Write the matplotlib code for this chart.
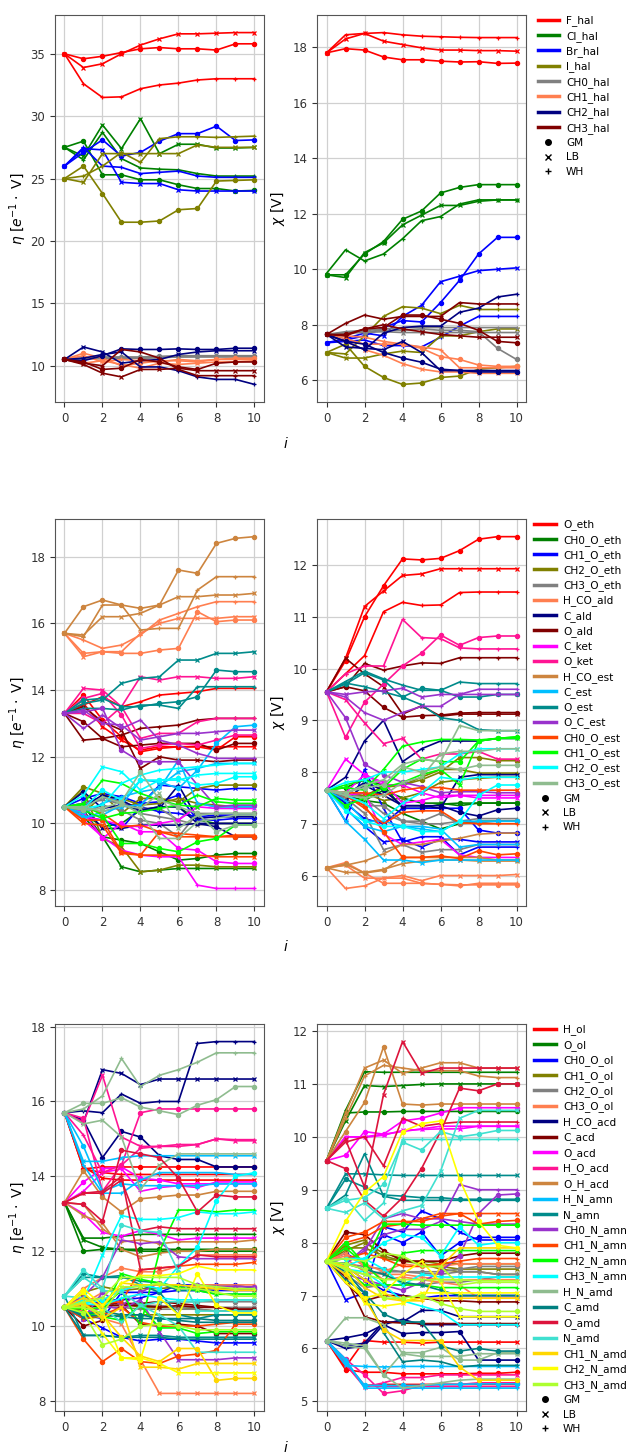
import matplotlib
matplotlib.use("Agg")
import matplotlib.pyplot as plt
from matplotlib.lines import Line2D

plt.rcParams["font.size"] = 8.5
plt.rcParams["font.family"] = ["DejaVu Sans"]

steps = list(range(11))
methods = ["GM", "LB", "WH"]
method_markers = {"GM": "o", "LB": "x", "WH": "+"}

# ---- halogens: each entry is [GM, LB, WH] ----
F_hal_eta = [[35, 34.6, 34.8, 35.1, 35.4, 35.5, 35.4, 35.4, 35.3, 35.8, 35.8],
             [35, 33.9, 34.2, 35.0, 35.7, 36.2, 36.6, 36.6, 36.65, 36.7, 36.7],
             [35, 32.6, 31.5, 31.55, 32.2, 32.5, 32.65, 32.9, 33.0, 33.0, 33.0]]
F_hal_chi = [[17.8, 17.95, 17.9, 17.65, 17.55, 17.55, 17.5, 17.47, 17.48, 17.42, 17.43],
             [17.8, 18.3, 18.5, 18.22, 18.1, 17.98, 17.9, 17.9, 17.88, 17.88, 17.86],
             [17.8, 18.45, 18.5, 18.53, 18.45, 18.4, 18.38, 18.36, 18.35, 18.35, 18.35]]
Cl_hal_eta = [[27.5, 28.0, 25.3, 25.3, 24.9, 24.9, 24.5, 24.2, 24.2, 24.0, 24.05],
              [27.5, 26.8, 29.3, 27.4, 29.8, 27.0, 27.75, 27.75, 27.45, 27.45, 27.5],
              [27.5, 26.5, 28.7, 26.6, 25.85, 25.75, 25.7, 25.4, 25.2, 25.2, 25.2]]
Cl_hal_chi = [[9.8, 9.8, 10.55, 11.0, 11.8, 12.1, 12.75, 12.95, 13.05, 13.05, 13.05],
              [9.8, 9.7, 10.6, 10.95, 11.6, 11.95, 12.3, 12.3, 12.45, 12.5, 12.5],
              [9.85, 10.7, 10.3, 10.55, 11.1, 11.75, 11.9, 12.35, 12.5, 12.5, 12.5]]
Br_hal_eta = [[26.0, 27.1, 28.1, 26.8, 27.1, 28.0, 28.6, 28.6, 29.2, 28.05, 28.1],
              [26.0, 27.4, 27.3, 24.7, 24.6, 24.6, 24.1, 24.0, 24.0, 24.0, 24.0],
              [26.0, 27.5, 26.0, 25.9, 25.4, 25.5, 25.6, 25.2, 25.1, 25.1, 25.1]]
Br_hal_chi = [[7.35, 7.45, 7.6, 7.9, 8.15, 8.1, 8.8, 9.6, 10.55, 11.15, 11.15],
              [7.35, 7.5, 7.7, 7.6, 8.3, 8.7, 9.55, 9.75, 9.95, 10.0, 10.05],
              [7.35, 7.4, 7.45, 7.25, 7.25, 7.2, 7.55, 7.95, 8.3, 8.3, 8.3]]
I_hal_eta = [[25.0, 26.0, 23.8, 21.5, 21.5, 21.6, 22.5, 22.6, 24.8, 24.85, 24.9],
             [25.0, 24.7, 27.0, 27.0, 27.0, 27.0, 27.0, 27.7, 27.5, 27.5, 27.5],
             [25.0, 25.2, 26.0, 27.1, 26.3, 28.2, 28.35, 28.35, 28.3, 28.35, 28.4]]
I_hal_chi = [[7.0, 7.3, 6.5, 6.1, 5.85, 5.9, 6.1, 6.15, 6.4, 6.45, 6.5],
             [7.0, 6.8, 6.8, 6.95, 7.05, 7.0, 7.6, 7.6, 7.75, 7.85, 7.85],
             [7.0, 6.95, 7.6, 8.3, 8.65, 8.6, 8.4, 8.7, 8.55, 8.55, 8.55]]
CH0_hal_eta = [[10.5, 10.6, 10.7, 10.7, 10.7, 10.75, 10.8, 10.8, 10.8, 10.8, 10.8],
               [10.5, 10.55, 10.6, 10.65, 10.6, 10.65, 10.7, 10.7, 10.7, 10.7, 10.7],
               [10.5, 10.6, 10.55, 10.6, 10.6, 10.65, 10.7, 10.75, 10.75, 10.75, 10.75]]
CH0_hal_chi = [[7.65, 7.7, 7.75, 7.8, 7.8, 7.85, 7.8, 7.8, 7.75, 7.15, 6.75],
               [7.65, 7.7, 7.72, 7.75, 7.72, 7.72, 7.72, 7.72, 7.72, 7.72, 7.72],
               [7.65, 7.75, 7.8, 7.85, 7.9, 7.9, 7.9, 7.9, 7.9, 7.9, 7.9]]
CH1_hal_eta = [[10.5, 11.0, 10.6, 10.0, 10.2, 10.4, 10.4, 10.3, 10.5, 10.6, 10.6],
               [10.5, 10.2, 10.4, 10.1, 9.8, 10.2, 10.1, 10.2, 10.3, 10.3, 10.4],
               [10.5, 10.8, 10.3, 10.5, 10.4, 10.3, 10.5, 10.4, 10.5, 10.5, 10.5]]
CH1_hal_chi = [[7.65, 7.5, 7.3, 7.3, 7.3, 7.15, 6.85, 6.75, 6.55, 6.5, 6.5],
               [7.65, 7.4, 7.1, 6.9, 6.6, 6.4, 6.3, 6.3, 6.25, 6.25, 6.25],
               [7.65, 7.6, 7.55, 7.4, 7.3, 7.2, 7.1, 6.45, 6.45, 6.45, 6.45]]
CH2_hal_eta = [[10.5, 10.4, 10.8, 11.35, 11.3, 11.3, 11.35, 11.3, 11.3, 11.4, 11.4],
               [10.5, 11.5, 11.1, 10.2, 10.4, 10.5, 10.9, 11.1, 11.2, 11.2, 11.2],
               [10.5, 10.6, 10.9, 11.1, 9.9, 9.9, 9.6, 9.1, 8.9, 8.9, 8.5]]
CH2_hal_chi = [[7.65, 7.4, 7.3, 7.0, 6.8, 6.65, 6.4, 6.35, 6.3, 6.3, 6.3],
               [7.65, 7.2, 7.15, 7.1, 7.4, 7.0, 6.35, 6.35, 6.35, 6.35, 6.35],
               [7.65, 7.4, 7.1, 7.7, 7.9, 7.95, 7.95, 8.45, 8.6, 9.0, 9.1]]
CH3_hal_eta = [[10.5, 10.3, 9.7, 9.8, 10.5, 10.3, 9.9, 9.7, 10.2, 10.3, 10.3],
               [10.5, 10.1, 9.4, 9.1, 9.7, 9.7, 9.8, 9.6, 9.6, 9.6, 9.6],
               [10.5, 10.2, 10.0, 11.3, 11.1, 10.6, 9.7, 9.2, 9.2, 9.2, 9.2]]
CH3_hal_chi = [[7.65, 7.65, 7.85, 7.9, 8.35, 8.35, 8.2, 8.05, 7.8, 7.4, 7.35],
               [7.65, 7.6, 7.85, 8.0, 7.85, 7.75, 7.65, 7.6, 7.55, 7.55, 7.55],
               [7.65, 8.05, 8.35, 8.2, 8.3, 8.3, 8.3, 8.8, 8.75, 8.75, 8.75]]

# ---- ethers, aldehydes, ketones, esters ----
O_eth_eta = [[13.3, 13.85, 13.1, 12.6, 12.15, 12.25, 12.3, 12.3, 12.2, 12.6, 12.6],
             [13.3, 13.6, 12.9, 12.5, 12.2, 12.3, 12.3, 12.3, 12.3, 12.3, 12.3],
             [13.3, 13.55, 13.8, 13.5, 13.65, 13.85, 13.9, 13.95, 14.05, 14.05, 14.05]]
O_eth_chi = [[9.55, 10.15, 11.0, 11.6, 12.12, 12.1, 12.13, 12.28, 12.5, 12.55, 12.55],
             [9.55, 10.2, 11.2, 11.5, 11.8, 11.83, 11.93, 11.93, 11.93, 11.93, 11.93],
             [9.55, 9.9, 10.25, 11.1, 11.28, 11.22, 11.23, 11.47, 11.48, 11.48, 11.48]]
CH0_O_eth_eta = [[10.5, 10.4, 9.6, 9.5, 9.4, 9.15, 8.9, 8.95, 9.05, 9.1, 9.1],
                 [10.5, 10.2, 9.6, 8.7, 8.55, 8.6, 8.65, 8.65, 8.65, 8.65, 8.65],
                 [10.5, 10.3, 9.9, 10.0, 10.4, 10.5, 10.5, 10.1, 10.0, 10.0, 10.0]]
CH0_O_eth_chi = [[7.65, 7.7, 7.85, 7.75, 7.3, 7.3, 7.38, 7.4, 7.4, 7.4, 7.4],
                 [7.65, 7.55, 7.45, 7.65, 7.5, 7.4, 7.4, 7.35, 7.4, 7.4, 7.4],
                 [7.65, 7.4, 7.45, 7.4, 7.2, 7.05, 6.9, 7.0, 7.05, 7.05, 7.05]]
CH1_O_eth_eta = [[10.5, 10.75, 10.9, 10.8, 10.6, 10.65, 10.85, 10.1, 10.1, 10.15, 10.15],
                 [10.5, 10.6, 10.8, 10.55, 10.55, 11.15, 11.1, 11.05, 11.0, 11.05, 11.05],
                 [10.5, 10.2, 10.1, 9.85, 10.5, 10.35, 10.3, 10.2, 10.25, 10.25, 10.25]]
CH1_O_eth_chi = [[7.65, 7.4, 7.1, 7.0, 7.3, 7.3, 7.3, 7.3, 6.88, 6.82, 6.82],
                 [7.65, 7.3, 6.95, 6.65, 6.7, 6.55, 6.7, 6.7, 6.65, 6.65, 6.65],
                 [7.65, 7.05, 8.05, 7.3, 6.65, 6.75, 6.75, 6.4, 6.55, 6.55, 6.55]]
CH2_O_eth_eta = [[10.5, 11.1, 10.9, 10.3, 10.75, 10.75, 10.65, 11.05, 11.15, 11.15, 11.15],
                 [10.5, 11.0, 9.55, 9.3, 8.55, 8.6, 8.75, 8.75, 8.7, 8.7, 8.7],
                 [10.5, 10.3, 10.85, 10.75, 10.55, 10.6, 10.75, 10.6, 10.55, 10.5, 10.5]]
CH2_O_eth_chi = [[7.65, 7.55, 7.55, 7.7, 7.75, 7.85, 8.0, 8.28, 8.28, 8.22, 8.22],
                 [7.65, 7.5, 7.6, 7.45, 7.5, 7.6, 7.8, 7.85, 7.88, 7.9, 7.9],
                 [7.65, 7.6, 7.5, 7.75, 7.75, 7.9, 8.05, 8.05, 7.98, 7.98, 7.98]]
CH3_O_eth_eta = [[10.5, 10.3, 10.55, 10.4, 10.1, 10.0, 9.6, 10.3, 10.3, 10.3, 10.3],
                 [10.5, 10.45, 10.8, 10.65, 10.45, 10.45, 10.1, 9.95, 10.0, 10.0, 10.0],
                 [10.5, 10.6, 10.7, 10.6, 10.3, 10.2, 10.1, 10.6, 10.5, 10.5, 10.5]]
CH3_O_eth_chi = [[7.65, 7.55, 7.35, 7.35, 7.05, 7.05, 7.2, 7.0, 7.02, 7.05, 7.05],
                 [7.65, 7.5, 7.2, 6.5, 6.6, 6.45, 6.5, 6.5, 6.6, 6.6, 6.6],
                 [7.65, 7.6, 7.5, 7.2, 7.05, 7.0, 7.0, 7.05, 7.1, 7.1, 7.1]]
H_CO_ald_eta = [[15.7, 15.1, 15.15, 15.1, 15.1, 15.2, 15.25, 16.35, 16.05, 16.1, 16.1],
                [15.7, 15.0, 15.15, 15.15, 15.7, 16.0, 16.15, 16.15, 16.15, 16.2, 16.2],
                [15.7, 15.5, 15.25, 15.35, 15.65, 16.1, 16.3, 16.5, 16.65, 16.65, 16.65]]
H_CO_ald_chi = [[6.15, 6.25, 6.05, 5.85, 5.85, 5.85, 5.83, 5.82, 5.82, 5.82, 5.82],
                [6.15, 6.2, 5.95, 5.95, 6.0, 5.9, 6.0, 6.0, 6.0, 6.0, 6.02],
                [6.15, 5.75, 5.8, 5.95, 5.95, 5.85, 5.83, 5.8, 5.85, 5.85, 5.85]]
C_ald_eta = [[10.5, 10.95, 10.45, 10.55, 10.4, 10.5, 10.5, 10.0, 9.9, 9.6, 9.6],
             [10.5, 10.5, 9.85, 9.85, 9.95, 9.95, 9.95, 10.0, 10.0, 10.0, 10.0],
             [10.5, 10.5, 10.85, 10.7, 10.4, 10.45, 11.15, 10.15, 10.2, 10.2, 10.2]]
C_ald_chi = [[7.65, 7.55, 7.8, 7.65, 7.35, 7.35, 7.35, 7.22, 7.15, 7.27, 7.3],
             [7.65, 7.45, 7.75, 7.55, 7.35, 7.35, 7.3, 7.9, 7.95, 7.95, 7.95],
             [7.65, 7.9, 8.6, 9.0, 8.2, 8.45, 8.6, 8.6, 8.6, 8.65, 8.65]]
O_ald_eta = [[13.3, 13.05, 12.55, 12.3, 12.35, 12.4, 12.4, 12.4, 12.2, 12.4, 12.4],
             [13.3, 13.5, 13.05, 12.8, 11.65, 12.0, 11.9, 11.9, 11.85, 11.9, 11.9],
             [13.3, 12.5, 12.55, 12.65, 12.85, 12.9, 12.95, 13.1, 13.15, 13.15, 13.15]]
O_ald_chi = [[9.55, 9.65, 9.57, 9.25, 9.06, 9.09, 9.1, 9.14, 9.15, 9.15, 9.15],
             [9.55, 10.2, 9.9, 9.65, 9.12, 9.28, 9.08, 9.12, 9.12, 9.12, 9.12],
             [9.55, 9.65, 10.1, 9.97, 10.05, 10.11, 10.1, 10.21, 10.21, 10.21, 10.21]]
C_ket_eta = [[10.5, 10.35, 9.55, 10.0, 9.75, 9.75, 9.25, 9.2, 8.85, 8.8, 8.8],
             [10.5, 10.2, 10.1, 9.95, 9.9, 10.0, 10.1, 10.5, 10.45, 10.45, 10.45],
             [10.5, 10.1, 9.6, 9.2, 9.05, 9.0, 9.0, 8.15, 8.05, 8.05, 8.05]]
C_ket_chi = [[7.65, 7.6, 7.95, 7.8, 7.4, 7.45, 7.55, 7.55, 7.55, 7.55, 7.55],
             [7.65, 8.25, 7.95, 7.75, 7.75, 7.6, 7.5, 7.55, 7.5, 7.5, 7.5],
             [7.65, 7.55, 7.6, 6.8, 6.6, 6.65, 6.7, 6.4, 6.35, 6.35, 6.35]]
O_ket_eta = [[13.3, 13.75, 13.9, 13.25, 12.25, 12.35, 12.4, 12.35, 12.5, 12.65, 12.65],
             [13.3, 14.05, 14.0, 13.5, 14.4, 14.3, 14.4, 14.4, 14.35, 14.35, 14.4],
             [13.3, 13.3, 13.0, 13.5, 12.55, 12.7, 12.7, 13.05, 13.15, 13.15, 13.15]]
O_ket_chi = [[9.55, 8.67, 9.35, 9.7, 10.05, 10.3, 10.65, 10.45, 10.6, 10.63, 10.63],
             [9.55, 9.4, 8.95, 8.55, 8.65, 8.25, 8.35, 8.35, 8.4, 8.25, 8.25],
             [9.55, 9.9, 10.05, 10.05, 10.95, 10.6, 10.58, 10.4, 10.38, 10.38, 10.38]]
H_CO_est_eta = [[15.7, 16.5, 16.7, 16.55, 16.45, 16.55, 17.6, 17.5, 18.4, 18.55, 18.6],
                [15.7, 15.65, 16.2, 16.2, 16.3, 16.55, 16.8, 16.8, 16.85, 16.85, 16.9],
                [15.7, 15.6, 16.55, 16.55, 15.8, 15.85, 15.85, 17.0, 17.4, 17.4, 17.4]]
H_CO_est_chi = [[6.15, 6.22, 6.05, 6.1, 6.35, 6.35, 6.35, 6.35, 6.35, 6.3, 6.3],
                [6.15, 6.06, 6.06, 6.12, 6.23, 6.28, 6.3, 6.3, 6.28, 6.28, 6.28],
                [6.15, 6.2, 6.28, 6.42, 6.6, 6.6, 6.67, 6.72, 6.8, 6.82, 6.82]]
C_est_eta = [[10.5, 10.2, 10.25, 10.55, 11.3, 11.25, 11.05, 11.6, 12.4, 12.9, 12.95],
             [10.5, 10.15, 10.35, 10.5, 10.55, 11.1, 11.55, 11.65, 11.8, 11.8, 11.8],
             [10.5, 10.3, 10.6, 10.8, 10.95, 11.05, 11.9, 10.6, 10.5, 10.5, 10.5]]
C_est_chi = [[7.65, 7.3, 6.95, 6.85, 6.95, 6.9, 6.85, 7.05, 7.05, 7.05, 7.05],
             [7.65, 7.05, 6.7, 6.3, 6.3, 6.25, 6.3, 6.3, 6.3, 6.3, 6.3],
             [7.65, 7.45, 7.05, 7.05, 6.95, 6.95, 6.9, 6.55, 6.6, 6.6, 6.6]]
O_est_eta = [[13.3, 13.7, 13.75, 13.5, 13.5, 13.6, 13.65, 13.8, 14.6, 14.55, 14.55],
             [13.3, 13.6, 13.7, 14.2, 14.35, 14.4, 14.9, 14.9, 15.1, 15.1, 15.15],
             [13.3, 13.45, 13.45, 13.4, 13.55, 13.55, 13.45, 14.1, 14.1, 14.1, 14.1]]
O_est_chi = [[9.55, 9.7, 9.92, 9.78, 9.45, 9.62, 9.58, 9.45, 9.45, 9.5, 9.5],
             [9.55, 9.72, 9.65, 9.55, 9.45, 9.3, 9.05, 9.0, 8.82, 8.8, 8.8],
             [9.55, 9.75, 9.95, 9.8, 9.68, 9.58, 9.58, 9.74, 9.71, 9.71, 9.71]]
O_C_est_eta = [[13.3, 13.35, 13.45, 12.2, 11.85, 11.85, 11.85, 11.15, 10.5, 10.55, 10.55],
               [13.3, 13.4, 13.0, 12.95, 12.5, 12.6, 12.7, 12.7, 12.75, 12.8, 12.8],
               [13.3, 12.85, 13.25, 12.85, 13.1, 12.5, 12.35, 12.1, 11.95, 11.95, 11.95]]
O_C_est_chi = [[9.55, 9.05, 8.15, 7.95, 7.8, 7.72, 7.6, 7.62, 7.62, 7.6, 7.6],
               [9.55, 9.5, 9.55, 9.57, 9.62, 9.45, 9.5, 9.5, 9.5, 9.5, 9.5],
               [9.55, 9.45, 9.15, 9.0, 9.15, 9.27, 9.27, 9.5, 9.6, 9.6, 9.6]]
CH0_O_est_eta = [[10.5, 10.1, 10.1, 9.15, 9.05, 9.75, 9.6, 9.6, 9.6, 9.6, 9.6],
                 [10.5, 10.0, 9.95, 9.1, 9.05, 9.05, 9.05, 9.05, 9.0, 9.0, 9.0],
                 [10.5, 10.5, 10.3, 9.9, 9.95, 9.75, 9.7, 9.65, 9.6, 9.65, 9.65]]
CH0_O_est_chi = [[7.65, 7.55, 7.35, 6.85, 6.35, 6.35, 6.38, 6.33, 6.48, 6.4, 6.42],
                 [7.65, 7.6, 7.6, 7.55, 7.65, 7.7, 7.7, 7.65, 7.65, 7.65, 7.65],
                 [7.65, 7.55, 7.3, 7.0, 7.22, 7.25, 7.25, 7.02, 7.0, 7.0, 7.0]]
CH1_O_est_eta = [[10.5, 10.55, 10.25, 9.4, 9.4, 9.25, 9.15, 9.45, 9.55, 9.95, 9.95],
                 [10.5, 10.4, 10.15, 10.3, 10.35, 10.45, 10.55, 10.5, 10.75, 10.7, 10.7],
                 [10.5, 10.6, 11.3, 11.2, 10.9, 10.7, 10.55, 10.85, 10.65, 10.6, 10.6]]
CH1_O_est_chi = [[7.65, 7.35, 7.5, 7.7, 8.05, 8.25, 8.2, 8.2, 8.6, 8.65, 8.68],
                 [7.65, 7.75, 7.85, 7.7, 7.8, 7.95, 8.05, 7.75, 8.6, 8.65, 8.65],
                 [7.65, 7.7, 7.65, 8.05, 8.5, 8.58, 8.63, 8.63, 8.62, 8.65, 8.68]]
CH2_O_est_eta = [[10.5, 10.45, 11.0, 10.7, 11.3, 11.3, 11.35, 11.15, 11.2, 11.4, 11.4],
                 [10.5, 10.85, 11.7, 11.55, 11.0, 11.3, 11.3, 11.45, 11.5, 11.5, 11.5],
                 [10.5, 10.45, 10.55, 11.2, 11.45, 11.6, 11.65, 11.7, 11.75, 11.8, 11.8]]
CH2_O_est_chi = [[7.65, 7.25, 7.05, 6.95, 6.95, 6.85, 6.85, 7.05, 7.55, 7.75, 7.75],
                 [7.65, 7.8, 7.85, 8.0, 8.0, 8.05, 8.1, 8.35, 8.45, 8.45, 8.45],
                 [7.65, 7.55, 7.4, 7.1, 7.4, 7.6, 7.9, 7.85, 7.9, 7.9, 7.9]]
CH3_O_est_eta = [[10.5, 10.4, 10.45, 10.65, 11.55, 10.7, 10.5, 10.3, 9.75, 9.95, 9.95],
                 [10.5, 10.5, 10.35, 10.55, 10.45, 10.9, 9.85, 10.25, 10.3, 10.3, 10.3],
                 [10.5, 10.45, 10.8, 10.6, 10.3, 9.55, 9.55, 10.05, 10.15, 10.25, 10.25]]
CH3_O_est_chi = [[7.65, 7.6, 7.7, 7.75, 8.1, 8.0, 8.1, 8.05, 8.13, 8.13, 8.13],
                 [7.65, 7.55, 7.5, 7.55, 7.8, 7.9, 8.35, 8.4, 8.4, 8.45, 8.45],
                 [7.65, 7.6, 7.75, 7.85, 8.15, 8.25, 8.2, 8.9, 8.8, 8.8, 8.8]]

# ---- alcohols, acids, amines, amides ----
H_ol_eta = [[15.7, 14.2, 14.25, 14.25, 14.25, 14.25, 14.25, 14.25, 14.25, 14.25, 14.25],
            [15.7, 14.25, 13.95, 13.9, 13.9, 13.9, 13.9, 13.9, 13.9, 13.9, 13.9],
            [15.7, 14.2, 14.1, 14.05, 14.05, 14.05, 14.05, 14.05, 14.05, 14.05, 14.05]]
H_ol_chi = [[6.15, 5.6, 5.55, 5.55, 5.52, 5.52, 5.52, 5.52, 5.53, 5.53, 5.55],
            [6.15, 5.65, 6.15, 6.12, 6.12, 6.1, 6.12, 6.12, 6.12, 6.12, 6.12],
            [6.15, 5.7, 5.3, 5.32, 5.32, 5.32, 5.32, 5.32, 5.32, 5.32, 5.32]]
O_ol_eta = [[13.3, 12.0, 12.05, 12.05, 12.05, 12.05, 12.05, 12.05, 12.05, 12.05, 12.05],
            [13.3, 12.3, 12.1, 12.05, 12.0, 12.0, 12.0, 12.0, 12.0, 12.0, 12.0],
            [13.3, 12.35, 12.35, 12.4, 12.45, 12.45, 12.45, 12.45, 12.45, 12.45, 12.45]]
O_ol_chi = [[9.55, 10.45, 10.47, 10.47, 10.48, 10.48, 10.48, 10.48, 10.48, 10.48, 10.48],
            [9.55, 10.3, 10.97, 10.95, 10.97, 10.99, 11.0, 11.0, 11.0, 11.0, 11.0],
            [9.55, 10.5, 11.23, 11.22, 11.22, 11.22, 11.22, 11.22, 11.22, 11.22, 11.22]]
CH0_O_ol_eta = [[10.5, 10.3, 10.2, 10.9, 10.9, 10.9, 11.1, 11.1, 11.1, 11.1, 11.0],
                [10.5, 10.2, 9.95, 9.7, 9.6, 9.65, 9.65, 9.6, 9.55, 9.55, 9.55],
                [10.5, 10.45, 10.7, 10.7, 10.75, 10.9, 10.95, 10.95, 10.95, 10.95, 10.95]]
CH0_O_ol_chi = [[7.65, 7.8, 7.6, 8.15, 8.0, 8.2, 7.75, 8.0, 8.1, 8.1, 8.1],
                [7.65, 6.92, 7.05, 8.3, 8.2, 8.6, 8.45, 8.2, 8.05, 8.05, 8.05],
                [7.65, 7.55, 7.3, 7.1, 7.0, 6.95, 7.0, 7.0, 7.0, 7.0, 7.0]]
CH1_O_ol_eta = [[10.5, 10.8, 10.6, 10.6, 10.5, 10.5, 10.5, 10.45, 10.4, 10.4, 10.4],
                [10.5, 10.9, 11.05, 10.95, 11.0, 11.0, 11.05, 11.0, 11.0, 11.0, 11.0],
                [10.5, 10.2, 10.25, 10.3, 10.3, 10.3, 10.3, 10.3, 10.3, 10.3, 10.3]]
CH1_O_ol_chi = [[7.65, 7.9, 7.9, 7.75, 7.65, 7.65, 7.6, 7.6, 7.6, 7.6, 7.6],
                [7.65, 7.85, 8.0, 7.8, 7.7, 7.6, 7.55, 7.5, 7.5, 7.5, 7.5],
                [7.65, 7.95, 8.05, 7.7, 7.65, 7.6, 7.5, 7.45, 7.45, 7.4, 7.4]]
CH2_O_ol_eta = [[10.5, 10.55, 10.6, 10.6, 10.6, 10.65, 10.65, 10.65, 10.65, 10.65, 10.65],
                [10.5, 10.7, 10.75, 10.6, 10.55, 10.55, 10.5, 10.5, 10.5, 10.5, 10.5],
                [10.5, 10.3, 10.5, 10.5, 10.45, 10.45, 10.45, 10.45, 10.4, 10.4, 10.4]]
CH2_O_ol_chi = [[7.65, 7.6, 7.55, 7.5, 7.45, 7.45, 7.45, 7.5, 7.55, 7.55, 7.55],
                [7.65, 7.5, 7.4, 7.45, 7.45, 7.42, 7.4, 7.45, 7.45, 7.4, 7.4],
                [7.65, 7.4, 7.15, 7.2, 7.2, 7.2, 7.25, 7.25, 7.3, 7.35, 7.35]]
CH3_O_ol_eta = [[10.5, 11.0, 11.3, 11.55, 11.45, 11.45, 11.6, 11.9, 11.9, 11.9, 11.9],
                [10.5, 10.4, 10.2, 10.05, 9.1, 8.2, 8.2, 8.2, 8.2, 8.2, 8.2],
                [10.5, 10.6, 10.9, 11.0, 11.1, 11.1, 11.05, 11.1, 11.1, 11.1, 11.1]]
CH3_O_ol_chi = [[7.65, 7.75, 7.6, 7.45, 7.6, 7.55, 7.55, 7.6, 7.6, 7.6, 7.6],
                [7.65, 7.8, 7.55, 7.3, 7.35, 7.3, 7.25, 7.2, 6.95, 6.95, 6.95],
                [7.65, 7.7, 7.45, 7.4, 7.4, 7.35, 7.3, 7.3, 7.3, 7.3, 7.3]]
H_CO_acd_eta = [[15.7, 15.5, 14.5, 15.2, 15.05, 14.55, 14.45, 14.45, 14.25, 14.25, 14.25],
                [15.7, 15.45, 16.85, 16.75, 16.45, 16.6, 16.6, 16.6, 16.6, 16.6, 16.6],
                [15.7, 15.75, 15.7, 16.2, 15.95, 16.0, 16.0, 17.55, 17.6, 17.6, 17.6]]
H_CO_acd_chi = [[6.15, 6.2, 6.27, 6.45, 6.28, 6.3, 6.3, 6.32, 5.78, 5.78, 5.78],
                [6.15, 6.05, 6.1, 6.5, 6.5, 6.72, 6.72, 6.6, 6.6, 6.6, 6.6],
                [6.15, 6.0, 6.05, 6.45, 6.55, 6.45, 6.45, 6.45, 6.45, 6.45, 6.45]]
C_acd_eta = [[10.5, 10.0, 10.15, 10.55, 10.05, 10.0, 10.05, 10.0, 9.8, 9.8, 9.8],
             [10.5, 10.5, 10.55, 10.55, 10.55, 10.5, 10.55, 10.5, 10.5, 10.45, 10.45],
             [10.5, 10.45, 10.6, 10.6, 10.6, 10.65, 10.6, 10.55, 10.5, 10.45, 10.45]]
C_acd_chi = [[7.65, 8.2, 8.15, 7.85, 7.65, 7.65, 7.65, 7.75, 7.8, 7.8, 7.8],
             [7.65, 7.35, 6.6, 6.5, 6.48, 6.47, 6.47, 6.47, 6.47, 6.47, 6.47],
             [7.65, 7.25, 6.9, 7.0, 7.0, 6.95, 6.9, 6.9, 6.88, 6.88, 6.88]]
O_acd_eta = [[13.3, 13.85, 14.2, 14.25, 13.95, 13.9, 13.8, 13.8, 13.8, 13.8, 13.8],
             [13.3, 13.0, 12.5, 12.4, 12.55, 12.45, 12.3, 12.35, 12.35, 12.35, 12.35],
             [13.3, 13.6, 14.1, 14.2, 13.6, 13.7, 13.75, 13.7, 13.85, 13.85, 13.85]]
O_acd_chi = [[9.55, 9.65, 10.1, 10.05, 10.3, 10.35, 10.45, 10.55, 10.55, 10.55, 10.55],
             [9.55, 10.0, 9.99, 10.03, 10.12, 10.14, 10.15, 10.15, 10.2, 10.2, 10.2],
             [9.55, 10.0, 10.0, 10.05, 10.1, 10.15, 10.2, 10.2, 10.2, 10.2, 10.2]]
H_O_acd_eta = [[15.7, 15.55, 13.6, 14.3, 15.7, 15.8, 15.8, 15.8, 15.8, 15.8, 15.8],
               [15.7, 15.45, 16.7, 15.05, 14.8, 14.8, 14.85, 14.85, 15.0, 14.95, 14.95],
               [15.7, 15.1, 14.1, 14.3, 14.75, 14.8, 14.8, 14.85, 15.0, 14.98, 14.98]]
H_O_acd_chi = [[6.15, 5.8, 5.5, 5.15, 5.2, 5.3, 5.32, 5.32, 5.35, 5.35, 5.35],
               [6.15, 5.7, 5.27, 5.35, 5.45, 5.45, 5.5, 5.5, 5.5, 5.5, 5.5],
               [6.15, 5.75, 5.3, 5.28, 5.28, 5.28, 5.28, 5.28, 5.28, 5.28, 5.28]]
O_H_acd_eta = [[13.3, 14.15, 13.45, 13.05, 13.4, 13.45, 13.5, 13.5, 13.6, 13.6, 13.6],
               [13.3, 12.95, 12.75, 12.05, 11.85, 11.95, 12.0, 12.0, 12.05, 12.05, 12.05],
               [13.3, 13.25, 12.6, 12.25, 12.3, 12.2, 12.25, 12.25, 12.25, 12.25, 12.3]]
O_H_acd_chi = [[9.55, 10.1, 10.65, 11.7, 10.62, 10.6, 10.62, 10.62, 10.62, 10.62, 10.62],
               [9.55, 10.45, 11.3, 11.45, 11.2, 11.3, 11.4, 11.4, 11.3, 11.3, 11.3],
               [9.55, 10.35, 11.15, 11.35, 11.3, 11.25, 11.25, 11.25, 11.15, 11.12, 11.12]]
H_N_amn_eta = [[15.7, 14.8, 13.6, 13.8, 13.75, 13.75, 13.75, 13.75, 13.8, 13.8, 13.8],
               [15.7, 14.4, 14.4, 14.5, 14.55, 14.55, 14.55, 14.55, 14.55, 14.55, 14.55],
               [15.7, 14.3, 13.55, 13.55, 13.9, 14.1, 14.1, 14.1, 14.1, 14.05, 14.05]]
H_N_amn_chi = [[6.15, 5.75, 5.3, 5.3, 5.3, 5.3, 5.32, 5.32, 5.33, 5.33, 5.33],
               [6.15, 5.68, 5.66, 5.65, 5.66, 5.66, 5.66, 5.66, 5.66, 5.66, 5.66],
               [6.15, 5.8, 5.25, 5.25, 5.25, 5.25, 5.25, 5.25, 5.25, 5.25, 5.25]]
N_amn_eta = [[10.8, 11.4, 11.3, 11.35, 11.1, 10.9, 10.3, 10.2, 10.3, 10.3, 10.3],
             [10.8, 9.75, 9.75, 9.7, 9.75, 9.75, 9.7, 9.7, 9.7, 9.7, 9.7],
             [10.8, 11.3, 11.3, 11.3, 11.2, 11.15, 10.95, 10.95, 10.85, 10.85, 10.85]]
N_amn_chi = [[8.65, 9.2, 9.05, 8.9, 8.88, 8.85, 8.85, 8.82, 8.82, 8.82, 8.82],
             [8.65, 9.3, 9.3, 9.28, 9.27, 9.27, 9.27, 9.27, 9.27, 9.27, 9.27],
             [8.65, 8.9, 9.68, 8.88, 8.8, 8.8, 8.8, 8.8, 8.8, 8.8, 8.8]]
CH0_N_amn_eta = [[10.5, 10.2, 10.9, 10.55, 10.9, 11.15, 11.05, 11.1, 11.05, 11.05, 11.05],
                 [10.5, 10.3, 10.55, 10.45, 10.7, 9.85, 9.1, 9.1, 9.1, 9.15, 9.15],
                 [10.5, 10.8, 11.3, 12.3, 12.2, 12.25, 11.85, 11.8, 11.8, 11.8, 11.8]]
CH0_N_amn_chi = [[7.65, 7.4, 7.3, 7.2, 7.1, 7.25, 7.45, 7.75, 8.55, 8.9, 8.92],
                 [7.65, 7.6, 7.85, 8.45, 8.55, 8.45, 8.45, 8.4, 8.35, 8.35, 8.35],
                 [7.65, 7.6, 7.9, 8.15, 8.25, 8.25, 8.4, 9.1, 9.0, 9.0, 9.0]]
CH1_N_amn_eta = [[10.5, 9.65, 9.05, 9.4, 9.05, 9.0, 9.2, 9.25, 9.35, 10.05, 10.05],
                 [10.5, 10.55, 10.6, 10.65, 11.5, 11.55, 11.6, 11.65, 11.65, 11.65, 11.7],
                 [10.5, 10.2, 10.3, 10.5, 10.1, 10.0, 10.0, 10.0, 10.05, 10.1, 10.1]]
CH1_N_amn_chi = [[7.65, 8.1, 8.2, 8.4, 8.4, 8.4, 8.5, 8.55, 8.35, 8.4, 8.42],
                 [7.65, 8.0, 8.1, 8.3, 8.35, 8.45, 8.55, 8.55, 8.55, 8.55, 8.55],
                 [7.65, 7.7, 7.8, 7.7, 7.55, 7.55, 7.6, 7.65, 7.7, 7.7, 7.7]]
CH2_N_amn_eta = [[10.5, 10.35, 10.25, 10.15, 10.55, 9.95, 9.95, 9.8, 9.85, 9.85, 9.85],
                 [10.5, 10.35, 10.35, 11.4, 11.25, 11.15, 11.05, 10.95, 10.85, 10.85, 10.85],
                 [10.5, 10.45, 10.5, 10.95, 10.0, 12.0, 13.1, 13.1, 13.05, 13.1, 13.1]]
CH2_N_amn_chi = [[7.65, 8.0, 7.6, 8.35, 8.35, 8.33, 8.33, 8.33, 8.33, 8.33, 8.33],
                 [7.65, 7.9, 7.6, 7.25, 7.8, 7.85, 7.85, 7.85, 7.85, 7.85, 7.85],
                 [7.65, 7.5, 7.2, 7.2, 7.2, 7.2, 7.15, 7.15, 7.15, 7.15, 7.15]]
CH3_N_amn_eta = [[10.5, 10.6, 10.7, 10.95, 11.1, 11.0, 11.6, 12.1, 13.35, 14.0, 14.1],
                 [10.5, 10.7, 11.9, 12.95, 12.85, 12.85, 12.9, 13.05, 13.0, 13.0, 13.05],
                 [10.5, 10.6, 10.55, 10.75, 10.85, 10.75, 10.7, 10.7, 10.7, 10.7, 10.7]]
CH3_N_amn_chi = [[7.65, 7.7, 7.7, 8.0, 8.15, 8.1, 7.75, 8.3, 7.95, 8.0, 8.0],
                 [7.65, 7.55, 7.7, 7.5, 7.2, 7.4, 7.35, 7.35, 7.35, 7.35, 7.35],
                 [7.65, 7.5, 7.45, 7.2, 6.9, 6.8, 6.7, 6.45, 6.45, 6.45, 6.45]]
H_N_amd_eta = [[15.7, 15.95, 15.95, 16.1, 15.85, 15.75, 15.65, 15.9, 16.05, 16.4, 16.4],
               [15.7, 15.4, 15.5, 15.05, 13.65, 14.3, 14.6, 14.6, 14.6, 14.6, 14.6],
               [15.7, 15.8, 16.15, 17.15, 16.4, 16.7, 16.85, 17.05, 17.3, 17.3, 17.3]]
H_N_amd_chi = [[6.15, 6.1, 6.05, 5.5, 5.92, 5.92, 6.02, 5.78, 5.78, 5.92, 5.92],
               [6.15, 6.58, 6.58, 6.45, 5.9, 5.85, 5.85, 5.85, 5.9, 5.9, 5.9],
               [6.15, 6.05, 6.0, 5.5, 5.25, 5.3, 5.35, 5.4, 5.42, 5.42, 5.42]]
C_amd_eta = [[10.5, 10.3, 10.4, 10.3, 10.3, 10.2, 10.2, 10.2, 10.15, 10.15, 10.15],
             [10.5, 10.25, 10.3, 10.25, 10.2, 10.2, 10.15, 10.1, 10.1, 10.1, 10.1],
             [10.5, 9.75, 9.75, 9.7, 9.7, 9.7, 9.65, 9.65, 9.65, 9.65, 9.65]]
C_amd_chi = [[7.65, 7.45, 7.05, 6.65, 6.5, 6.5, 6.05, 5.95, 6.0, 5.95, 5.95],
             [7.65, 7.6, 7.5, 7.4, 7.25, 7.2, 7.1, 7.0, 7.0, 7.0, 7.0],
             [7.65, 7.3, 7.05, 6.3, 5.75, 5.78, 5.75, 5.65, 5.68, 5.68, 5.68]]
O_amd_eta = [[13.3, 13.25, 12.8, 14.7, 14.6, 14.5, 13.95, 13.05, 13.5, 13.45, 13.45],
             [13.3, 13.55, 13.55, 13.9, 12.55, 12.65, 12.6, 12.6, 12.6, 12.6, 12.6],
             [13.3, 13.55, 13.6, 14.0, 11.5, 11.55, 11.6, 11.9, 11.85, 11.85, 11.85]]
O_amd_chi = [[9.55, 9.4, 8.8, 8.5, 8.85, 9.4, 10.1, 10.92, 10.87, 11.0, 11.0],
             [9.55, 9.95, 9.05, 10.8, 11.8, 11.2, 11.3, 11.3, 11.3, 11.3, 11.3],
             [9.55, 9.9, 10.0, 9.45, 10.35, 10.2, 10.25, 10.28, 10.28, 10.28, 10.28]]
N_amd_eta = [[10.8, 11.5, 11.0, 12.7, 12.55, 12.5, 11.45, 10.4, 10.4, 10.4, 10.4],
             [10.8, 11.3, 10.95, 10.9, 10.55, 10.65, 10.65, 10.65, 10.7, 10.7, 10.7],
             [10.8, 10.75, 10.5, 10.1, 10.55, 10.3, 10.0, 9.3, 9.3, 9.3, 9.3]]
N_amd_chi = [[8.65, 8.8, 8.85, 9.1, 9.9, 9.75, 10.1, 10.0, 10.05, 10.12, 10.12],
             [8.65, 8.57, 8.75, 8.45, 8.6, 8.7, 9.35, 10.35, 10.5, 10.5, 10.5],
             [8.65, 8.85, 8.42, 8.75, 9.95, 9.95, 9.95, 9.95, 9.95, 9.95, 9.95]]
CH1_N_amd_eta = [[10.5, 10.6, 10.3, 9.7, 9.2, 9.05, 9.4, 9.4, 8.55, 8.6, 8.6],
                 [10.5, 10.6, 10.2, 10.5, 8.9, 8.9, 8.85, 9.0, 9.0, 9.0, 9.0],
                 [10.5, 10.75, 10.5, 11.15, 11.1, 11.1, 11.1, 11.05, 11.0, 10.95, 10.95]]
CH1_N_amd_chi = [[7.65, 7.4, 6.95, 6.35, 6.15, 6.15, 6.15, 5.65, 5.4, 5.4, 5.4],
                 [7.65, 7.55, 7.3, 7.05, 6.9, 6.95, 6.95, 6.95, 6.95, 6.95, 6.95],
                 [7.65, 7.55, 7.15, 6.95, 6.9, 6.9, 7.55, 7.9, 7.9, 7.9, 7.9]]
CH2_N_amd_eta = [[10.5, 10.9, 10.4, 9.15, 9.1, 10.75, 10.3, 11.4, 10.55, 10.35, 10.35],
                 [10.5, 10.5, 9.8, 9.15, 9.15, 9.0, 8.75, 8.75, 8.75, 8.75, 8.75],
                 [10.5, 11.0, 10.55, 11.15, 11.35, 11.35, 11.4, 11.6, 11.5, 11.5, 11.5]]
CH2_N_amd_chi = [[7.65, 8.4, 8.95, 9.25, 10.1, 10.25, 10.3, 9.2, 8.4, 7.95, 7.9],
                 [7.65, 7.5, 6.85, 6.8, 6.85, 7.05, 7.05, 7.05, 7.05, 7.05, 7.05],
                 [7.65, 7.25, 6.95, 7.05, 7.4, 7.65, 7.25, 6.6, 6.6, 6.6, 6.6]]
CH3_N_amd_eta = [[10.5, 10.35, 9.5, 9.65, 10.0, 10.05, 10.0, 9.9, 9.9, 9.9, 9.9],
                 [10.5, 10.5, 10.35, 11.05, 11.05, 11.15, 11.0, 11.0, 10.9, 10.8, 10.8],
                 [10.5, 10.65, 10.75, 11.3, 11.3, 11.3, 11.3, 11.1, 11.05, 11.0, 11.0]]
CH3_N_amd_chi = [[7.65, 7.6, 7.5, 6.95, 6.95, 7.0, 6.85, 6.75, 6.7, 6.7, 6.7],
                 [7.65, 7.5, 7.4, 7.3, 7.3, 7.3, 7.3, 7.3, 7.28, 7.28, 7.28],
                 [7.65, 7.7, 7.65, 7.8, 7.75, 7.55, 7.55, 7.2, 7.25, 7.25, 7.25]]

halogen_group = [
    ("F_hal", "red", F_hal_eta, F_hal_chi),
    ("Cl_hal", "green", Cl_hal_eta, Cl_hal_chi),
    ("Br_hal", "blue", Br_hal_eta, Br_hal_chi),
    ("I_hal", "olive", I_hal_eta, I_hal_chi),
    ("CH0_hal", "gray", CH0_hal_eta, CH0_hal_chi),
    ("CH1_hal", "coral", CH1_hal_eta, CH1_hal_chi),
    ("CH2_hal", "navy", CH2_hal_eta, CH2_hal_chi),
    ("CH3_hal", "maroon", CH3_hal_eta, CH3_hal_chi),
]
carbonyl_group = [
    ("O_eth", "red", O_eth_eta, O_eth_chi),
    ("CH0_O_eth", "green", CH0_O_eth_eta, CH0_O_eth_chi),
    ("CH1_O_eth", "blue", CH1_O_eth_eta, CH1_O_eth_chi),
    ("CH2_O_eth", "olive", CH2_O_eth_eta, CH2_O_eth_chi),
    ("CH3_O_eth", "gray", CH3_O_eth_eta, CH3_O_eth_chi),
    ("H_CO_ald", "coral", H_CO_ald_eta, H_CO_ald_chi),
    ("C_ald", "navy", C_ald_eta, C_ald_chi),
    ("O_ald", "maroon", O_ald_eta, O_ald_chi),
    ("C_ket", "magenta", C_ket_eta, C_ket_chi),
    ("O_ket", "deeppink", O_ket_eta, O_ket_chi),
    ("H_CO_est", "peru", H_CO_est_eta, H_CO_est_chi),
    ("C_est", "deepskyblue", C_est_eta, C_est_chi),
    ("O_est", "darkcyan", O_est_eta, O_est_chi),
    ("O_C_est", "darkorchid", O_C_est_eta, O_C_est_chi),
    ("CH0_O_est", "orangered", CH0_O_est_eta, CH0_O_est_chi),
    ("CH1_O_est", "lime", CH1_O_est_eta, CH1_O_est_chi),
    ("CH2_O_est", "cyan", CH2_O_est_eta, CH2_O_est_chi),
    ("CH3_O_est", "darkseagreen", CH3_O_est_eta, CH3_O_est_chi),
]
nitrogen_group = [
    ("H_ol", "red", H_ol_eta, H_ol_chi),
    ("O_ol", "green", O_ol_eta, O_ol_chi),
    ("CH0_O_ol", "blue", CH0_O_ol_eta, CH0_O_ol_chi),
    ("CH1_O_ol", "olive", CH1_O_ol_eta, CH1_O_ol_chi),
    ("CH2_O_ol", "gray", CH2_O_ol_eta, CH2_O_ol_chi),
    ("CH3_O_ol", "coral", CH3_O_ol_eta, CH3_O_ol_chi),
    ("H_CO_acd", "navy", H_CO_acd_eta, H_CO_acd_chi),
    ("C_acd", "maroon", C_acd_eta, C_acd_chi),
    ("O_acd", "magenta", O_acd_eta, O_acd_chi),
    ("H_O_acd", "deeppink", H_O_acd_eta, H_O_acd_chi),
    ("O_H_acd", "peru", O_H_acd_eta, O_H_acd_chi),
    ("H_N_amn", "deepskyblue", H_N_amn_eta, H_N_amn_chi),
    ("N_amn", "darkcyan", N_amn_eta, N_amn_chi),
    ("CH0_N_amn", "darkorchid", CH0_N_amn_eta, CH0_N_amn_chi),
    ("CH1_N_amn", "orangered", CH1_N_amn_eta, CH1_N_amn_chi),
    ("CH2_N_amn", "lime", CH2_N_amn_eta, CH2_N_amn_chi),
    ("CH3_N_amn", "cyan", CH3_N_amn_eta, CH3_N_amn_chi),
    ("H_N_amd", "darkseagreen", H_N_amd_eta, H_N_amd_chi),
    ("C_amd", "teal", C_amd_eta, C_amd_chi),
    ("O_amd", "crimson", O_amd_eta, O_amd_chi),
    ("N_amd", "turquoise", N_amd_eta, N_amd_chi),
    ("CH1_N_amd", "gold", CH1_N_amd_eta, CH1_N_amd_chi),
    ("CH2_N_amd", "yellow", CH2_N_amd_eta, CH2_N_amd_chi),
    ("CH3_N_amd", "greenyellow", CH3_N_amd_eta, CH3_N_amd_chi),
]

fig = plt.figure(figsize=(6.29, 14.56), dpi=100)


def style_axes(ax):
    ax.grid(True, color="#d0d0d0", lw=0.9)
    ax.set_xticks([0, 2, 4, 6, 8, 10])
    for sp in ax.spines.values():
        sp.set_color("#555555")
    ax.tick_params(colors="#333333", labelsize=8.5)


def draw_group(group, bottom, xlabel_y, anchor_x, spacing):
    ax_eta = fig.add_axes([0.0874, bottom, 0.3323, 0.2658])
    ax_chi = fig.add_axes([0.504, bottom, 0.3323, 0.2658])
    for name, color, eta, chi in group:
        for ax, series in ((ax_eta, eta), (ax_chi, chi)):
            for m, ys in zip(methods, series):
                mk = method_markers[m]
                ax.plot(steps, ys, color=color, lw=1.2, marker=mk,
                        ms=3 if mk == "o" else 3.5, mew=0.9)
    for ax in (ax_eta, ax_chi):
        style_axes(ax)
    ax_eta.set_ylabel(r"$\eta$ [$e^{-1}\cdot$ V]", fontsize=10, labelpad=1)
    ax_chi.set_ylabel(r"$\chi$ [V]", fontsize=10, labelpad=4)
    fig.text(0.455, xlabel_y, r"$i$", ha="center", va="center", fontsize=10)

    handles = [Line2D([], [], color=c, lw=2.5) for _, c, _, _ in group]
    labels = [n for n, _, _, _ in group]
    for m in methods:
        handles.append(Line2D([], [], color="black", ls="none",
                              marker=method_markers[m], ms=4))
        labels.append(m)
    ax_chi.legend(handles, labels, loc="upper left", bbox_to_anchor=(anchor_x, 1.01),
                  frameon=False, fontsize=7.6, labelspacing=spacing,
                  handlelength=2.0, handletextpad=0.7, borderaxespad=0.0)


draw_group(halogen_group, 0.7239, 0.6957, 1.035, 0.42)
draw_group(carbonyl_group, 0.3777, 0.3496, 1.02, 0.41)
draw_group(nitrogen_group, 0.0309, 0.006, 1.02, 0.43)

fig.savefig("out.png", dpi=100)
